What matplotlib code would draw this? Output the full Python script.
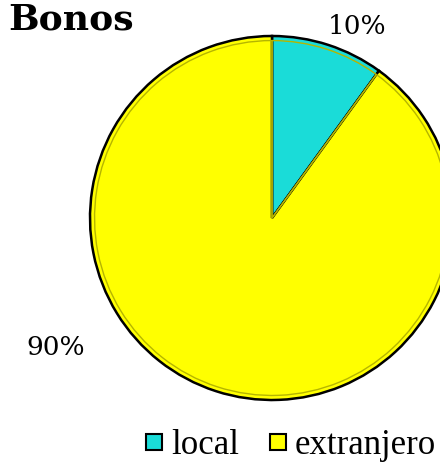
import matplotlib
matplotlib.use("Agg")
import matplotlib.pyplot as plt
from matplotlib.lines import Line2D

# ── Data ──────────────────────────────────────────────────────────────────────
categories = ["local", "extranjero"]
shares = [10, 90]
pct_labels = ["10%", "90%"]
colors = ["#1ADCD8", "#FFFF00"]
title = "Bonos"
# ─────────────────────────────────────────────────────────────────────────────

fig = plt.figure(figsize=(4.4, 4.62), dpi=100)
# pie centre ~ (272, 218) px, radius ~182 px
ax = fig.add_axes([90 / 440, 62 / 462, 364 / 440, 364 / 462])

# outer black rim
ax.pie(shares, colors=colors, startangle=90, counterclock=False,
       wedgeprops=dict(edgecolor="black", linewidth=1.8))
# inner bevel line
ax.pie(shares, colors=colors, startangle=90, counterclock=False, radius=0.975,
       wedgeprops=dict(edgecolor="#B5B500", linewidth=1.0, fill=False))
ax.set_xlim(-1, 1)
ax.set_ylim(-1, 1)
ax.set_aspect("equal")
ax.axis("off")

# percentage labels
ax.text(0.47, 1.05, pct_labels[0], ha="center", va="center",
        fontsize=19, family="DejaVu Serif")
ax.text(-1.19, -0.71, pct_labels[1], ha="center", va="center",
        fontsize=19, family="DejaVu Serif")

fig.text(8 / 440, 1 - 29 / 462, title, ha="left", va="baseline",
         fontsize=26, fontweight="heavy", family="DejaVu Serif")

handles = [Line2D([], [], marker="s", linestyle="none", markersize=12,
                  markerfacecolor=c, markeredgecolor="black", markeredgewidth=1.5)
           for c in colors]
fig.legend(handles, categories, loc="center", ncol=2, frameon=False,
           bbox_to_anchor=(290 / 440, 1 - 446 / 462),
           handlelength=0.6, handletextpad=0.2, columnspacing=0.8,
           prop=dict(family="Liberation Serif", size=25))

fig.savefig("out.png", dpi=100)
